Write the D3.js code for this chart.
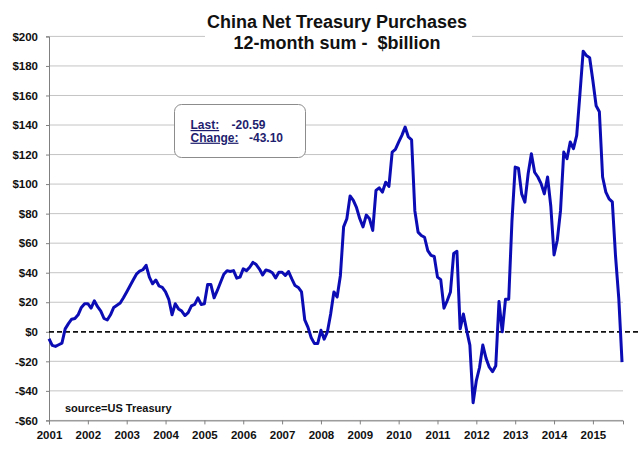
<!DOCTYPE html>
<html lang="en">
<head>
    <meta charset="UTF-8">
    <title>China Net Treasury Purchases</title>
    <script src="https://d3js.org/d3.v7.min.js"></script>
    <style>
        body {
            margin: 0;
            background-color: white;
        }
        svg text {
            font-family: Arial, "Liberation Sans", sans-serif;
            font-weight: bold;
            white-space: pre;
        }
    </style>
</head>
<body>
    <svg id="chart" width="641" height="450"></svg>

    <script>
        // Chart data
        const titleLines = ["China Net Treasury Purchases", "12-month sum -  $billion"];
        const startYear = 2001;
        const yearLabels = [2001, 2002, 2003, 2004, 2005, 2006, 2007, 2008, 2009, 2010, 2011, 2012, 2013, 2014, 2015];
        const yTicks = [-60, -40, -20, 0, 20, 40, 60, 80, 100, 120, 140, 160, 180, 200];
        const boxLabels = ["Last:", "Change:"];
        const boxValues = ["-20.59", "-43.10"];
        const sourceNote = "source=US Treasury";

        // monthly 12-month sums, Jan 2001 .. Oct 2015
        const values = [
            -4.7, -9.2, -9.9, -8.8, -7.7, 2, 5.5, 8.5, 9, 11.5, 16.5, 19,          // 2001
            19, 16, 21, 17, 14, 9, 8, 11.5, 16.5, 18, 19.5, 23,                      // 2002
            27, 31, 35, 39, 41, 42, 45, 37, 32.5, 35, 31, 30,                        // 2003
            27, 22, 11.5, 19, 15.5, 14, 11, 13, 17.5, 18.5, 23, 18.5,                // 2004
            19, 32, 32, 23, 28, 33.5, 39, 41.4, 40.8, 41.4, 36.3, 37,                // 2005
            42.6, 41.4, 43.7, 47, 45.5, 42.5, 38.5, 41.9, 41.2, 40, 36.5, 40.3,      // 2006
            40.3, 38.1, 40.8, 35.8, 31.3, 30, 27, 8, 3, -4, -8, -8,                 // 2007
            1, -5, 0, 12, 27, 23.5, 38, 71, 76.5, 92, 89, 84,                        // 2008
            76.5, 71, 79, 76.5, 68.6, 95.7, 97.5, 94.6, 101.3, 98.4, 121.7, 123.5,   // 2009
            128.4, 133, 138.6, 131.9, 130, 82, 67.5, 65.2, 64, 55, 51.7, 51,         // 2010
            37, 35.3, 16, 21, 27, 53, 54.5, 2, 12, 1, -9, -48,                       // 2011
            -33, -24, -9, -18, -24, -27, -23, 20.5, 0, 22, 22, 75,                   // 2012
            111.5, 110.8, 93.4, 87.8, 107, 120.6, 108, 104.8, 100.3, 93.4, 104.8, 85, // 2013
            52, 62, 82, 121.7, 117.2, 128.5, 124, 133, 161, 190, 187, 185.6,         // 2014
            170, 153, 149, 104.8, 94.6, 90, 88, 51, 22.5, -20.59                     // 2015
        ];

        const svg = d3.select("#chart");
        const plotLeft = 49, plotRight = 623, plotTop = 36.4, plotBottom = 420.4;

        const x = d3.scaleLinear()
            .domain([0, values.length - 0.7])
            .range([plotLeft, plotRight]);
        const y = d3.scaleLinear()
            .domain([d3.min(yTicks), d3.max(yTicks)])
            .range([plotBottom, plotTop]);

        // gridlines
        svg.append("g")
            .selectAll("line")
            .data(yTicks.filter(d => d !== 0))
            .join("line")
            .attr("x1", plotLeft)
            .attr("x2", plotRight)
            .attr("y1", d => y(d))
            .attr("y2", d => y(d))
            .attr("stroke", "#c4c4c4")
            .attr("stroke-width", 1);

        // y axis
        const yAxis = svg.append("g")
            .attr("transform", `translate(${plotLeft},0)`)
            .call(d3.axisLeft(y)
                .tickValues(yTicks)
                .tickSize(3)
                .tickPadding(8)
                .tickFormat(d => d < 0 ? "-$" + (-d) : "$" + d));
        yAxis.select(".domain").attr("stroke", "#808080");
        yAxis.selectAll(".tick line").attr("stroke", "#808080");
        yAxis.selectAll("text").attr("font-size", 11.5).attr("fill", "#111");

        // x axis
        const xAxis = svg.append("g")
            .attr("transform", `translate(0,${plotBottom})`)
            .call(d3.axisBottom(x)
                .tickValues(yearLabels.map(yr => (yr - startYear) * 12))
                .tickSize(4)
                .tickPadding(6)
                .tickFormat(d => startYear + d / 12));
        xAxis.select(".domain").attr("stroke", "#808080");
        xAxis.selectAll(".tick line").attr("stroke", "#808080");
        xAxis.selectAll("text").attr("font-size", 11.5).attr("fill", "#111");

        // zero line
        svg.append("line")
            .attr("x1", plotLeft)
            .attr("x2", 638)
            .attr("y1", y(0))
            .attr("y2", y(0))
            .attr("stroke", "#111")
            .attr("stroke-width", 1.8)
            .attr("stroke-dasharray", "5,3");

        // title with white backing over the top gridline
        svg.append("rect")
            .attr("x", 205)
            .attr("y", 8)
            .attr("width", 267)
            .attr("height", 48)
            .attr("fill", "white");
        svg.append("g")
            .selectAll("text")
            .data(titleLines)
            .join("text")
            .attr("x", 337)
            .attr("y", (d, i) => 28 + i * 20.5)
            .attr("text-anchor", "middle")
            .attr("font-size", 18)
            .attr("fill", "#111")
            .text(d => d);

        // the series
        const line = d3.line()
            .x((d, i) => x(i))
            .y(d => y(d));
        svg.append("path")
            .datum(values)
            .attr("d", line)
            .attr("fill", "none")
            .attr("stroke", "#0c0cb4")
            .attr("stroke-width", 3)
            .attr("stroke-linejoin", "round");

        // info box
        svg.append("rect")
            .attr("x", 174.5)
            .attr("y", 104.5)
            .attr("width", 131)
            .attr("height", 53)
            .attr("rx", 7)
            .attr("fill", "white")
            .attr("stroke", "#8c8c8c")
            .attr("stroke-width", 1);
        const box = svg.append("g").attr("font-size", 12).attr("fill", "#1e1e6e");
        boxLabels.forEach((lbl, i) => {
            box.append("text")
                .attr("x", 190.5)
                .attr("y", 129 + i * 12.7)
                .attr("text-decoration", "underline")
                .text(lbl);
        });
        box.append("text").attr("x", 231.5).attr("y", 129).text(boxValues[0]);
        box.append("text").attr("x", 249).attr("y", 141.7).text(boxValues[1]);

        // source note
        svg.append("text")
            .attr("x", 65)
            .attr("y", 411.5)
            .attr("font-size", 11)
            .attr("fill", "#111")
            .text(sourceNote);
    </script>
</body>
</html>
